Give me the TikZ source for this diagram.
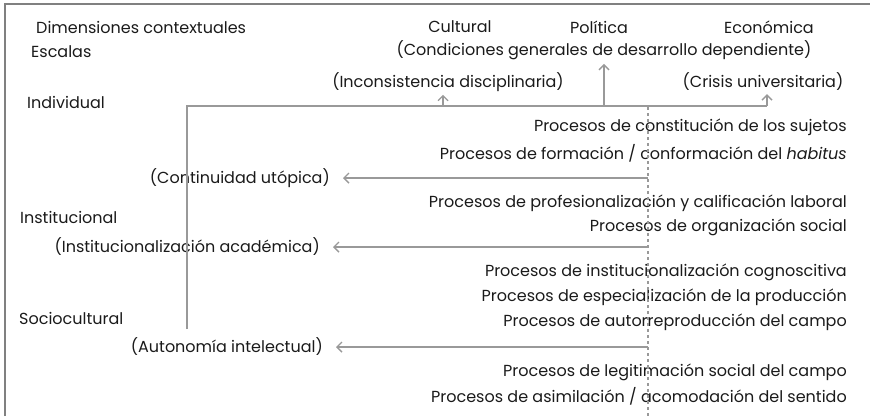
\documentclass[tikz,border=0pt]{standalone}
\usepackage{fontspec}
\setmainfont{Poppins}
\usepackage{xcolor}
\usetikzlibrary{arrows.meta}
\definecolor{linegray}{HTML}{999999}
\definecolor{framegray}{HTML}{808080}
\definecolor{textgray}{HTML}{1A1A1A}
\tikzset{>={Straight Barb[length=5pt,width=10pt]}}
\tikzset{
  txt/.style={text=textgray, inner sep=0pt, font=\fontsize{16}{18}\selectfont},
  proc/.style={txt, anchor=east},
  escala/.style={txt, anchor=west},
  conn/.style={draw=linegray, line width=1.4pt},
}

\begin{document}
\begin{tikzpicture}[x=1pt,y=-1pt]
      \useasboundingbox (0,0) rectangle (870,416);
      \draw[framegray, line width=2.4pt] (5,416) -- (5,4) -- (870,4);
      % escalas
      \node[escala] (dim) at (36,27) {Dimensiones contextuales};
      \node[escala] (esc) at (31,52) {Escalas};
      \node[escala] (ind) at (27,102) {Individual};
      \node[escala] (ins) at (20,217) {Institucional};
      \node[escala] (soc) at (19,318) {Sociocultural};
      % dimensiones
      \node[txt] (cul) at (460,27) {Cultural};
      \node[txt] (pol) at (599,27) {Política};
      \node[txt] (eco) at (769,27) {Económica};
      \node[txt] (cond) at (604,50) {(Condiciones generales de desarrollo dependiente)};
      \node[txt] (incons) at (448,82) {(Inconsistencia disciplinaria)};
      \node[txt] (crisis) at (763,82) {(Crisis universitaria)};
      % procesos
      \node[proc] (p1) at (847,127) {Procesos de constitución de los sujetos};
      \node[proc] (p2) at (847,153) {Procesos de formación / conformación del \textit{habitus}};
      \node[proc] (p3) at (847,203) {Procesos de profesionalización y calificación laboral};
      \node[proc] (p4) at (847,227) {Procesos de organización social};
      \node[proc] (p5) at (847,272) {Procesos de institucionalización cognoscitiva};
      \node[proc] (p6) at (847,297) {Procesos de especialización de la producción};
      \node[proc] (p7) at (847,322) {Procesos de autorreproducción del campo};
      \node[proc] (p8) at (847,372) {Procesos de legitimación social del campo};
      \node[proc] (p9) at (847,396) {Procesos de asimilación / acomodación del sentido};
      % resultados
      \node[proc] (cont) at (330,178) {(Continuidad utópica)};
      \node[proc] (acad) at (320,247) {(Institucionalización académica)};
      \node[proc] (auto) at (323,347) {(Autonomía intelectual)};
      % arbol
      \coordinate (base) at (187,329);
      \coordinate (corner) at (187,106);
      \coordinate (ftA) at (443,106);
      \coordinate (ftB) at (604,106);
      \coordinate (ftC) at (767,106);
      \draw[conn] (base) -- (corner) -- (ftC);
      \draw[conn,->,shorten >=3pt] (ftA) -- (ftA |- incons.south);
      \draw[conn,->,shorten >=4pt] (ftB) -- (ftB |- cond.south);
      \draw[conn,->,shorten >=3pt] (ftC) -- (ftC |- crisis.south);
      % eje
      \coordinate (dtop) at (648,107);
      \coordinate (dbot) at (648,416);
      \draw[linegray, line width=1.2pt, dash pattern=on 3pt off 3pt] (dtop) -- (dbot);
      \coordinate (c1) at (648,178);
      \coordinate (c2) at (648,247);
      \coordinate (c3) at (648,347);
      \draw[conn,->,shorten >=13pt] (c1) -- (cont.east);
      \draw[conn,->,shorten >=13pt] (c2) -- (acad.east);
      \draw[conn,->,shorten >=13pt] (c3) -- (auto.east);
    \end{tikzpicture}
\end{document}
